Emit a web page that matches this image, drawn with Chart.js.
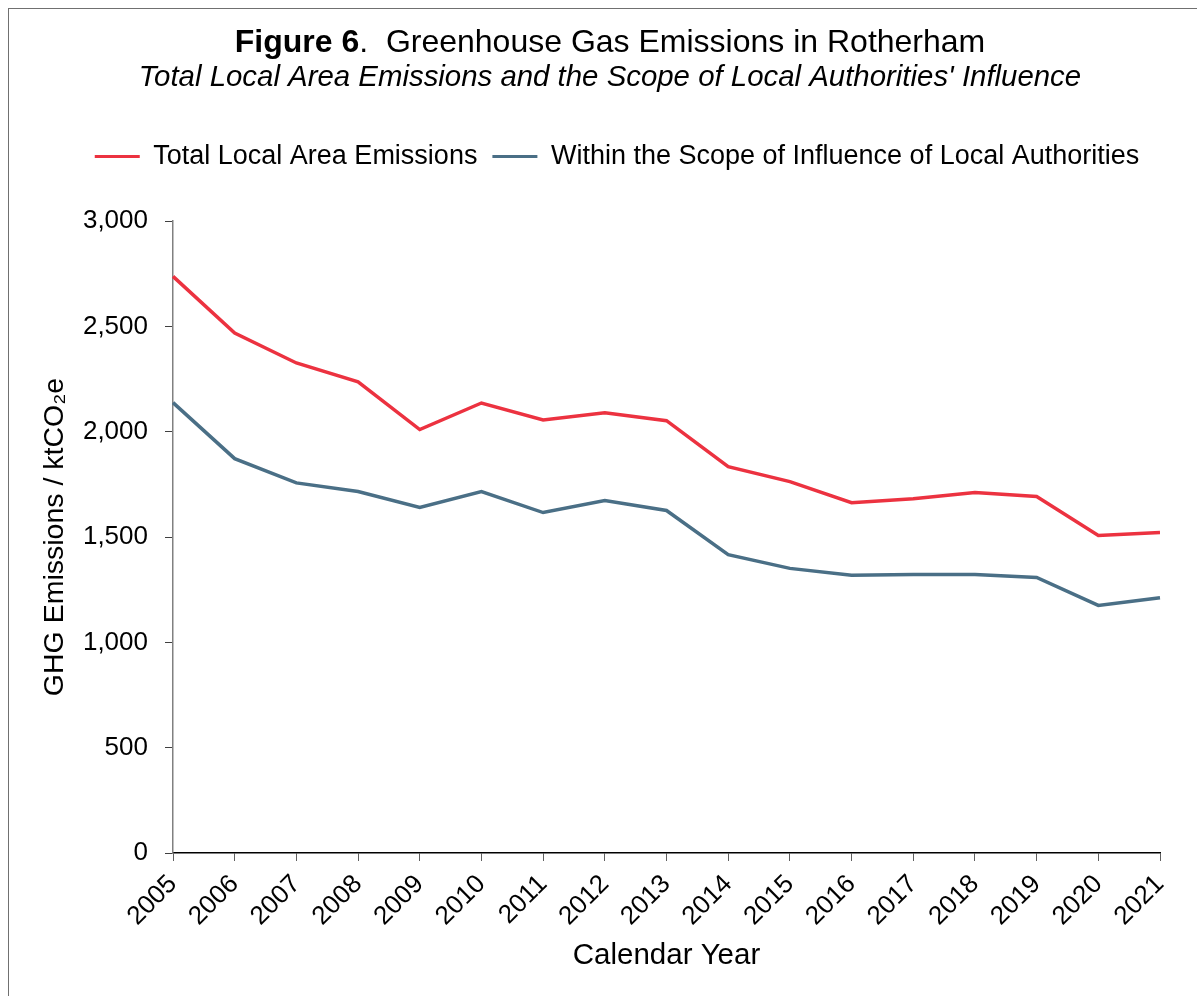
<!DOCTYPE html>
<html lang="en">
<head>
    <meta charset="UTF-8">
    <title>Figure 6</title>
    <script src="https://cdn.jsdelivr.net/npm/chart.js"></script>
    <style>
        html, body {
            margin: 0;
            padding: 0;
            overflow: hidden;
            background: #fff;
        }
        .frame {
            position: absolute;
            left: 8px;
            top: 8px;
            width: 1400px;
            height: 1200px;
            border: 1.5px solid #707070;
        }
        canvas {
            position: absolute;
            left: 0;
            top: 0;
        }
    </style>
</head>
<body>
<div class="frame"></div>
<canvas id="ghgChart" width="1197" height="996"></canvas>

<script>
    // values
    const years = ['2005', '2006', '2007', '2008', '2009', '2010', '2011', '2012', '2013',
                   '2014', '2015', '2016', '2017', '2018', '2019', '2020', '2021'];
    const totalEmissions = [2737, 2468, 2326, 2236, 2010, 2136, 2056, 2090, 2052,
                            1834, 1763, 1663, 1682, 1711, 1692, 1507, 1521];
    const withinScope = [2138, 1872, 1757, 1716, 1640, 1716, 1616, 1673, 1626,
                         1416, 1351, 1318, 1322, 1322, 1308, 1175, 1212];
    const yTicks = [0, 500, 1000, 1500, 2000, 2500, 3000];

    const FONT = 'Arial, "Liberation Sans", sans-serif';
    Chart.defaults.font.family = FONT;
    Chart.defaults.color = '#000';

    // title lines drawn as text on the canvas
    const titlePlugin = {
        id: 'figureTitle',
        afterDraw(chart) {
            const ctx = chart.ctx;
            ctx.save();
            ctx.fillStyle = '#000';
            ctx.textBaseline = 'alphabetic';
            const boldPart = 'Figure 6';
            const restPart = '.  Greenhouse Gas Emissions in Rotherham';
            ctx.font = 'bold 32px ' + FONT;
            const w1 = ctx.measureText(boldPart).width;
            ctx.font = '32px ' + FONT;
            const w2 = ctx.measureText(restPart).width;
            const x0 = 610 - (w1 + w2) / 2;
            ctx.font = 'bold 32px ' + FONT;
            ctx.fillText(boldPart, x0, 52);
            ctx.font = '32px ' + FONT;
            ctx.fillText(restPart, x0 + w1, 52);

            ctx.font = 'italic 29.4px ' + FONT;
            ctx.textAlign = 'center';
            ctx.fillText("Total Local Area Emissions and the Scope of Local Authorities' Influence", 610, 86);
            ctx.restore();
        }
    };

    // push the plot below the legend and shift legend to match
    const legendSpacing = {
        id: 'legendSpacing',
        beforeInit(chart) {
            const origFit = chart.legend.fit;
            chart.legend.fit = function () {
                origFit.bind(chart.legend)();
                this.height += 41;
            };
        },
        afterLayout(chart) {
            chart.legend.left += 27;
            chart.legend.right += 27;
        }
    };

    const ctx = document.getElementById('ghgChart').getContext('2d');
    new Chart(ctx, {
        type: 'line',
        data: {
            labels: years,
            datasets: [{
                label: 'Total Local Area Emissions',
                data: totalEmissions,
                borderColor: '#EC3240',
                backgroundColor: '#EC3240',
                borderWidth: 3.5,
                pointRadius: 0,
                tension: 0
            }, {
                label: 'Within the Scope of Influence of Local Authorities',
                data: withinScope,
                borderColor: '#4A6F86',
                backgroundColor: '#4A6F86',
                borderWidth: 3.5,
                pointRadius: 0,
                tension: 0
            }]
        },
        options: {
            responsive: false,
            animation: false,
            layout: {
                padding: { left: 20, right: 37, top: 128, bottom: 22 }
            },
            plugins: {
                legend: {
                    position: 'top',
                    labels: {
                        font: { size: 27 },
                        color: '#000',
                        boxWidth: 45,
                        boxHeight: 3,
                        padding: 15,
                        generateLabels: (chart) =>
                            Chart.defaults.plugins.legend.labels.generateLabels(chart)
                                .map(l => ({ ...l, lineWidth: 0 }))
                    }
                },
                tooltip: { enabled: false }
            },
            scales: {
                x: {
                    grid: {
                        drawOnChartArea: false,
                        drawTicks: true,
                        tickLength: 8,
                        color: '#606060'
                    },
                    border: { display: true, color: '#000', width: 1.5 },
                    ticks: {
                        font: { size: 26 },
                        color: '#000',
                        autoSkip: false,
                        minRotation: 45,
                        maxRotation: 45,
                        padding: 8
                    },
                    title: {
                        display: true,
                        text: 'Calendar Year',
                        font: { size: 29.5 },
                        color: '#000',
                        padding: 0
                    },
                    afterFit(scale) {
                        scale.height = 121;
                    }
                },
                y: {
                    min: 0,
                    max: 3000,
                    afterBuildTicks(scale) {
                        scale.ticks = yTicks.map(v => ({ value: v }));
                    },
                    grid: {
                        drawOnChartArea: false,
                        drawTicks: true,
                        tickLength: 8,
                        color: '#404040'
                    },
                    border: { display: true, color: '#808080', width: 1.5 },
                    ticks: {
                        font: { size: 26 },
                        color: '#000',
                        padding: 17,
                        callback: v => v.toLocaleString('en-US')
                    },
                    title: {
                        display: true,
                        text: 'GHG Emissions / ktCO\u2082e',
                        font: { size: 28.5 },
                        color: '#000',
                        padding: 18
                    },
                    afterFit(scale) {
                        scale.width = 153;
                    }
                }
            }
        },
        plugins: [titlePlugin, legendSpacing]
    });
</script>
</body>
</html>
